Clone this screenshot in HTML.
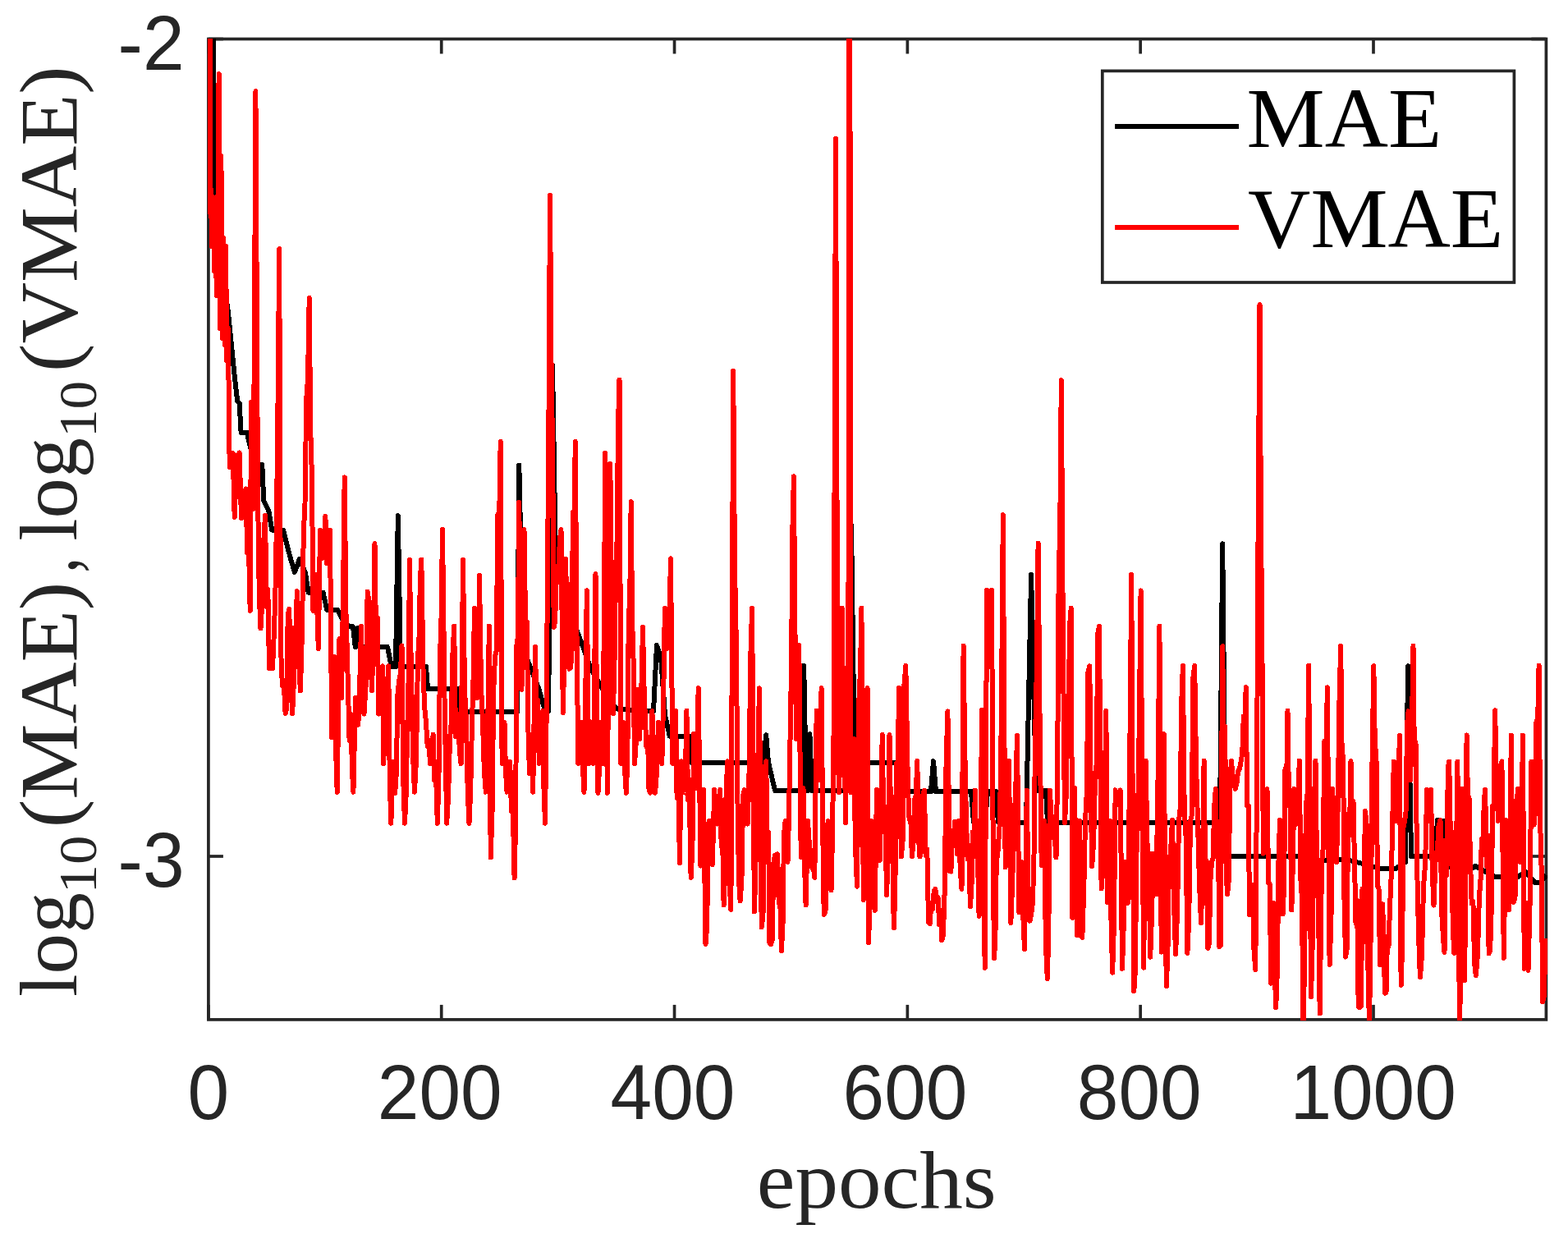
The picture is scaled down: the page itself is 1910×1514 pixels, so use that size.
<!DOCTYPE html>
<html><head><meta charset="utf-8"><style>
html,body{margin:0;padding:0;background:#fff;}
svg{display:block;}
.tl{font-family:"Liberation Sans",Arial,sans-serif;font-size:91px;fill:#262626;}
.lx{font-family:"Liberation Serif","Times New Roman",serif;fill:#262626;}
</style></head><body>
<svg width="1910" height="1514" viewBox="0 0 1910 1514">
<rect x="0" y="0" width="1910" height="1514" fill="#fff"/>
<g stroke="#262626" stroke-width="3.7" fill="none">
<rect x="253.9" y="47.5" width="1629.5" height="1194.4"/>
<line x1="253.90" y1="1241.9" x2="253.90" y2="1223.9"/><line x1="253.90" y1="47.5" x2="253.90" y2="65.5"/><line x1="537.72" y1="1241.9" x2="537.72" y2="1223.9"/><line x1="537.72" y1="47.5" x2="537.72" y2="65.5"/><line x1="821.54" y1="1241.9" x2="821.54" y2="1223.9"/><line x1="821.54" y1="47.5" x2="821.54" y2="65.5"/><line x1="1105.36" y1="1241.9" x2="1105.36" y2="1223.9"/><line x1="1105.36" y1="47.5" x2="1105.36" y2="65.5"/><line x1="1389.18" y1="1241.9" x2="1389.18" y2="1223.9"/><line x1="1389.18" y1="47.5" x2="1389.18" y2="65.5"/><line x1="1673.00" y1="1241.9" x2="1673.00" y2="1223.9"/><line x1="1673.00" y1="47.5" x2="1673.00" y2="65.5"/><line x1="253.9" y1="47.50" x2="271.9" y2="47.50"/><line x1="1883.4" y1="47.50" x2="1865.4" y2="47.50"/><line x1="253.9" y1="1043.00" x2="271.9" y2="1043.00"/><line x1="1883.4" y1="1043.00" x2="1865.4" y2="1043.00"/>
</g>
<defs><clipPath id="cp"><rect x="252.4" y="47.1" width="1632.5" height="1195.9"/></clipPath></defs>
<g clip-path="url(#cp)" fill="none" stroke-linejoin="round" stroke-linecap="butt" shape-rendering="crispEdges">
<polyline points="254.0,-80.0 259.6,30.0 261.0,221.0 270.0,330.0 277.3,374.6 285.7,457.8 289.2,488.7 291.6,491.0 293.6,526.7 300.7,526.7 307.0,553.0 309.4,566.3 319.3,566.3 321.3,610.0 327.2,621.8 331.2,645.5 345.0,645.5 353.0,677.0 358.9,697.0 364.9,681.0 372.0,698.0 375.7,721.7 393.5,721.7 398.3,743.0 411.4,743.0 418.0,756.0 425.6,763.3 430.0,763.3 432.8,788.3 436.3,764.5 438.0,788.0 472.0,788.0 476.8,812.0 482.0,812.0 484.8,628.2 488.0,812.0 519.0,812.0 521.0,839.0 558.5,839.0 560.0,867.0 630.0,867.0 632.3,566.6 637.0,790.0 645.0,810.0 656.0,838.0 664.0,866.0 668.0,866.0 673.0,445.0 677.0,690.0 700.0,761.0 710.0,787.4 719.5,813.6 731.4,835.0 740.0,850.0 751.6,863.5 796.0,866.4 800.0,786.0 805.0,800.0 810.0,870.6 815.8,896.8 840.0,896.8 842.0,928.6 930.0,928.6 933.2,895.3 936.0,928.6 944.0,963.0 976.0,963.0 979.2,811.0 982.0,963.0 984.0,963.0 986.4,894.0 989.0,963.0 1033.0,963.0 1037.0,640.0 1041.0,928.6 1100.0,928.6 1103.0,963.9 1134.0,963.9 1137.0,927.0 1140.0,963.9 1183.0,963.9 1186.0,1001.7 1200.0,1001.7 1203.0,964.0 1213.0,964.0 1216.0,1001.7 1250.0,1001.7 1256.1,699.9 1262.0,962.5 1274.0,962.5 1276.0,1001.7 1486.0,1001.7 1489.2,662.4 1493.0,1043.0 1580.0,1043.0 1600.0,1048.0 1640.0,1047.0 1660.0,1052.0 1680.0,1058.0 1700.0,1058.0 1712.0,1050.0 1715.1,811.3 1719.0,1043.0 1748.0,1043.0 1751.0,999.0 1760.0,1000.0 1764.0,1056.0 1788.0,1061.0 1797.0,1055.0 1821.0,1068.0 1849.6,1068.0 1857.7,1061.5 1870.0,1075.4 1876.0,1075.0 1884.0,1066.0" stroke="#000" stroke-width="6"/>
<polyline points="255.8,-50.0 256.3,260.0 256.8,230.0 258.2,300.0 259.6,240.0 261.0,330.0 262.4,260.0 263.8,360.0 265.2,280.0 266.6,90.0 268.0,400.0 269.4,190.0 270.8,412.0 272.2,290.0 273.6,420.0 275.0,300.0 276.4,440.0 277.8,400.0 279.7,569.0 281.7,562.5 283.7,552.0 285.7,630.0 288.5,555.0 290.1,554.2 291.6,551.5 294.0,631.0 295.8,628.1 297.7,602.2 299.5,595.5 301.2,673.8 303.0,667.1 304.7,744.0 306.0,490.0 308.5,620.0 309.9,411.0 311.4,111.3 314.0,600.0 315.8,725.1 317.5,765.5 319.3,734.6 321.2,660.3 323.0,627.5 324.7,739.2 326.3,718.1 328.0,814.0 330.0,814.0 332.0,814.0 334.0,767.3 336.0,700.0 338.1,538.3 340.2,303.2 342.0,789.0 343.9,835.0 345.7,831.3 347.6,869.0 349.1,863.3 350.7,748.6 352.2,741.7 354.1,817.6 356.0,869.0 357.4,846.0 358.9,764.4 360.3,800.2 361.7,720.3 363.8,801.5 365.9,841.5 367.9,771.3 369.8,649.0 371.5,613.2 373.2,486.7 375.0,461.7 376.7,362.8 378.3,526.3 379.9,578.1 381.5,744.0 383.2,728.1 385.0,700.0 387.8,790.0 390.0,645.6 391.5,667.6 393.0,680.0 394.7,661.4 396.4,629.0 398.0,686.0 400.0,673.3 402.0,645.6 404.2,898.0 407.0,800.0 408.9,907.2 410.7,964.7 413.5,778.0 416.0,850.0 417.9,734.6 419.7,581.4 421.4,743.9 423.0,800.0 425.6,901.7 427.5,870.0 428.9,936.9 430.4,964.7 433.0,850.0 434.6,873.7 436.3,882.7 438.1,838.1 440.0,762.6 441.8,848.0 443.5,869.6 445.6,835.4 447.7,720.5 450.0,736.0 451.5,800.6 453.0,841.0 454.8,780.2 456.5,662.2 458.1,779.6 459.7,752.6 461.3,869.6 462.9,866.9 464.4,820.3 466.0,811.3 467.2,930.2 470.0,850.0 471.6,840.9 473.2,811.3 474.8,951.2 476.3,1002.7 479.0,928.0 481.2,966.0 482.8,941.6 484.4,846.3 486.0,830.0 487.8,820.2 489.5,786.4 491.2,948.1 493.0,1002.7 494.5,971.5 496.0,900.0 497.5,833.6 499.0,681.7 500.5,794.2 502.0,870.0 503.5,930.7 505.0,964.7 507.0,924.8 509.0,800.0 510.4,781.5 511.9,706.2 513.3,681.7 515.7,825.6 517.4,864.0 519.0,880.0 520.7,908.7 522.3,901.8 524.0,930.2 525.8,918.4 527.6,894.6 529.3,950.3 531.1,945.4 532.8,1002.7 534.4,952.0 536.0,800.0 537.5,753.3 539.0,644.8 541.5,850.0 544.2,1002.7 546.1,969.1 548.0,900.0 549.7,880.7 551.5,795.2 553.2,762.6 555.0,897.0 556.5,886.2 558.0,870.0 559.8,914.4 561.6,930.2 564.0,681.7 566.0,839.6 568.0,880.0 569.8,967.7 571.5,1002.7 573.2,962.5 575.0,880.0 576.5,828.0 578.0,741.0 579.5,816.8 581.0,850.0 582.5,819.6 584.0,700.7 586.0,835.5 588.0,880.0 589.9,939.6 591.8,964.7 593.8,917.8 595.8,762.6 597.7,1044.4 599.5,990.7 601.2,841.9 603.0,800.0 604.7,792.5 606.4,626.7 608.0,640.8 609.7,538.0 611.6,930.0 613.0,912.3 614.5,880.0 616.0,939.7 617.6,964.7 619.4,957.0 621.2,927.8 623.0,987.9 624.8,986.1 626.6,1069.3 628.0,1007.4 629.5,785.3 630.9,775.3 632.3,611.8 633.8,777.9 635.4,840.0 637.0,781.3 638.5,645.0 640.1,760.8 641.8,757.6 643.4,888.1 645.0,942.0 647.0,900.0 649.2,964.7 652.0,787.6 653.6,873.9 655.2,852.7 656.8,930.0 658.2,917.1 659.7,874.8 661.1,866.0 662.5,960.6 664.0,1002.7 665.5,884.3 667.0,700.0 668.5,501.5 670.0,238.0 671.6,453.9 673.1,544.5 674.7,764.0 676.1,756.7 677.6,709.4 679.0,700.0 680.5,686.9 682.0,655.7 683.5,645.0 685.8,868.0 687.4,798.2 689.0,680.7 690.5,742.2 692.0,711.2 693.5,814.7 695.0,813.7 696.5,796.3 697.9,623.6 699.3,635.6 700.8,538.0 702.6,787.4 704.4,930.0 706.2,916.6 708.0,880.0 709.8,931.5 711.5,964.7 713.1,860.8 714.8,719.4 717.1,930.0 718.5,909.7 720.0,880.0 721.5,917.4 723.0,930.0 725.5,699.2 727.0,860.9 728.5,965.7 730.2,932.5 732.0,880.0 734.0,930.0 735.6,785.1 737.3,551.8 739.7,965.7 741.5,797.7 743.3,564.8 745.1,738.1 746.9,869.5 748.5,805.7 750.0,700.0 751.5,661.0 753.0,516.7 754.5,462.6 756.4,930.0 759.0,880.0 760.9,935.5 762.8,965.7 764.3,925.0 765.8,751.4 767.2,731.3 768.7,611.2 770.1,755.4 771.6,804.7 773.0,930.0 775.0,900.4 777.0,840.0 779.0,900.0 781.0,856.1 783.0,763.6 784.5,835.5 786.0,877.8 787.5,909.7 789.0,897.2 790.5,961.1 792.0,965.7 794.4,866.0 796.2,929.2 798.0,965.7 800.0,941.5 802.0,880.0 803.4,909.7 804.9,908.6 806.3,930.0 808.1,853.1 809.9,740.8 811.6,771.2 813.4,789.8 815.2,761.5 817.0,680.4 819.4,930.0 821.2,905.9 823.0,866.0 824.6,971.7 826.3,946.3 827.9,1051.0 829.8,927.4 832.0,960.0 834.5,965.5 836.4,865.6 838.1,974.3 839.9,973.9 841.6,1069.0 843.4,1033.1 845.2,894.0 848.0,960.0 850.7,838.3 853.5,1054.6 855.2,1032.1 857.0,962.0 859.5,1150.0 861.1,1129.8 862.6,1029.5 864.2,1000.0 866.0,1038.8 867.8,1053.4 870.2,962.0 872.0,989.9 873.7,1003.5 875.5,991.5 877.3,962.0 878.7,1030.8 880.2,1024.3 881.6,1102.2 883.2,1061.8 884.7,959.0 886.3,927.4 888.3,1070.7 890.4,1108.0 893.2,451.9 895.0,689.7 896.9,787.1 898.7,1001.0 900.2,1075.3 901.6,1097.4 903.4,1073.3 905.2,968.2 907.0,962.0 908.8,993.0 910.6,1003.5 912.4,951.4 914.3,799.8 916.1,740.8 918.9,1110.5 920.4,1060.8 921.9,919.5 923.4,925.9 924.9,838.3 927.7,1129.5 929.5,1114.5 931.4,936.4 933.2,927.4 934.7,1025.0 936.1,1013.5 937.5,1148.8 939.0,1150.0 940.6,1145.8 942.3,1052.0 943.9,1041.6 945.5,1041.2 947.1,1040.4 948.7,1099.5 950.3,1099.6 951.9,1158.0 953.5,1126.4 955.0,1016.1 956.6,1000.0 958.0,1034.0 959.5,1050.0 961.0,993.3 962.6,896.5 964.0,813.5 965.5,639.7 966.9,580.3 968.5,770.6 970.0,900.0 971.6,865.2 973.3,786.0 975.7,1044.0 978.5,960.0 980.0,1053.6 981.6,1102.2 984.0,1000.0 986.0,1030.9 988.0,1040.0 989.4,1057.8 990.9,1056.6 992.3,1069.0 994.7,865.6 997.5,950.0 999.0,908.9 1000.6,838.3 1002.2,1007.9 1003.7,1114.0 1005.5,1109.9 1007.2,1009.0 1009.0,1000.0 1010.8,1055.8 1012.5,1084.4 1014.0,1017.0 1015.5,900.0 1018.0,169.1 1020.5,900.0 1022.0,965.5 1023.8,899.5 1025.6,740.8 1027.0,881.2 1028.5,858.0 1029.9,1002.3 1031.8,883.6 1033.6,700.0 1035.0,-300.0 1036.4,965.5 1038.2,950.8 1040.0,900.0 1042.0,1031.9 1044.0,1079.6 1046.5,850.0 1048.0,816.3 1049.4,740.8 1051.8,1096.0 1053.4,1069.5 1054.9,896.3 1056.5,838.3 1057.9,1148.0 1059.5,1109.9 1061.0,1000.0 1062.6,1048.1 1064.1,1059.0 1065.7,1109.0 1068.0,961.5 1069.8,1029.1 1071.6,1048.0 1073.2,992.1 1074.7,895.0 1076.5,1008.6 1078.2,982.9 1080.0,1090.0 1081.8,1044.5 1083.5,895.0 1085.3,1006.9 1087.0,1019.6 1088.8,1130.3 1090.3,1087.4 1091.9,929.6 1093.5,954.3 1095.0,837.8 1097.8,1043.5 1099.6,1024.1 1101.5,833.2 1103.3,811.0 1106.0,960.0 1107.6,997.7 1109.3,998.5 1110.9,1043.5 1112.5,1027.4 1114.1,973.8 1115.7,968.4 1117.3,927.0 1118.8,1016.9 1120.4,1043.5 1122.2,1037.2 1124.1,968.3 1125.9,962.7 1127.6,1042.0 1129.3,1034.4 1131.0,1123.0 1132.7,1125.2 1134.4,1100.1 1136.0,1107.3 1137.7,1085.3 1139.4,1082.8 1141.0,1098.1 1142.6,1093.3 1144.2,1126.2 1145.7,1108.4 1147.3,1145.2 1148.9,1138.6 1150.7,1085.1 1152.6,927.5 1154.4,866.4 1156.8,1061.3 1158.4,1061.6 1160.0,1015.0 1161.6,1021.5 1163.2,1000.7 1166.0,1040.0 1168.0,1000.0 1169.8,1060.5 1171.5,1082.8 1173.6,786.7 1175.3,915.2 1177.0,1000.0 1178.6,1046.5 1180.3,1040.6 1181.9,1104.0 1183.4,1082.5 1184.8,1013.4 1186.3,1040.0 1187.8,962.5 1189.4,1041.0 1191.0,1047.2 1192.6,1115.8 1194.4,1015.4 1196.2,865.0 1198.0,1050.0 1199.7,1178.8 1202.1,718.9 1203.5,779.4 1205.0,800.0 1206.5,768.5 1208.0,718.9 1209.5,999.2 1210.9,1167.0 1212.3,1146.5 1213.8,1046.9 1215.2,1042.0 1218.0,1000.0 1219.9,869.8 1221.8,627.3 1223.2,872.2 1224.7,1056.4 1226.1,1031.8 1227.6,945.4 1229.0,926.8 1231.3,1124.0 1233.2,1075.8 1235.0,1000.0 1237.0,971.6 1239.0,895.9 1241.3,1111.0 1242.9,1086.5 1244.5,1050.0 1246.2,1112.9 1248.0,1156.2 1250.8,962.5 1252.6,1089.4 1254.4,1121.8 1256.2,1113.9 1258.0,1099.0 1259.5,1042.3 1261.0,900.0 1262.8,817.8 1264.6,661.8 1266.7,889.1 1268.7,1054.0 1270.3,1032.6 1272.0,1000.0 1273.9,1150.1 1275.8,1192.0 1277.3,1136.0 1278.9,962.5 1280.5,992.3 1282.0,1000.0 1283.5,1019.9 1285.0,1023.7 1286.5,1044.5 1288.1,943.1 1289.7,694.7 1291.2,649.4 1292.8,463.3 1294.9,779.6 1297.0,1002.0 1298.5,974.4 1300.0,900.0 1301.6,869.9 1303.1,761.4 1304.7,740.8 1306.4,1118.0 1309.0,960.0 1310.7,1077.4 1312.3,1139.4 1315.0,1000.0 1316.7,1091.0 1318.3,1141.8 1320.2,1086.1 1322.0,1000.0 1323.8,965.2 1325.5,818.2 1327.3,811.3 1328.8,970.0 1330.2,1055.0 1332.1,1026.3 1334.0,950.0 1335.7,929.7 1337.3,771.2 1339.0,762.6 1341.6,1082.4 1343.0,1062.7 1344.4,943.3 1345.9,951.8 1347.3,866.0 1349.2,1099.0 1352.0,1000.0 1353.5,1121.2 1355.1,1184.6 1356.9,1127.0 1358.7,962.3 1361.1,980.0 1362.9,976.1 1364.7,962.3 1367.0,1179.8 1368.5,1134.8 1370.0,1050.0 1372.0,1083.0 1374.0,1100.0 1376.1,940.7 1378.2,699.7 1379.8,995.8 1381.3,1207.2 1382.9,1181.2 1384.4,1040.8 1386.0,1000.0 1387.8,878.6 1389.6,719.4 1391.4,977.3 1393.2,1178.7 1395.6,926.7 1397.5,1027.4 1399.3,1044.8 1401.2,1165.6 1403.0,1115.8 1404.8,1039.6 1406.5,1069.8 1408.3,1089.5 1410.3,970.8 1412.4,762.7 1414.7,1159.6 1416.2,1057.1 1417.8,894.2 1419.3,1099.0 1420.9,1201.2 1422.5,1154.9 1424.0,1050.0 1426.0,1038.3 1428.0,999.0 1430.0,1100.4 1432.1,1162.0 1434.0,1112.6 1436.0,1000.0 1437.6,985.6 1439.3,853.9 1440.9,811.0 1442.7,985.5 1444.6,1018.9 1446.4,1160.8 1448.2,1121.1 1450.0,1000.0 1451.7,993.1 1453.5,824.4 1455.2,811.0 1457.1,935.2 1459.0,1000.0 1461.0,1075.9 1463.0,1124.0 1464.8,1064.4 1466.6,926.6 1468.2,1059.3 1469.7,1048.5 1471.3,1154.9 1472.9,1149.1 1474.4,1072.4 1476.0,1050.0 1477.6,1045.4 1479.2,982.1 1480.8,961.0 1482.3,1038.3 1483.8,1002.9 1485.3,1153.0 1486.8,1151.3 1489.2,787.2 1490.7,918.9 1492.2,885.0 1493.6,1063.3 1495.1,1089.5 1496.7,1073.5 1498.3,960.1 1499.9,926.6 1501.5,944.3 1503.0,945.3 1504.6,961.0 1506.3,955.5 1508.0,940.0 1509.9,936.4 1511.8,926.6 1513.3,917.0 1514.8,872.6 1516.2,885.6 1517.7,837.1 1519.2,981.5 1520.6,981.0 1522.1,1114.5 1523.9,1103.6 1525.7,1077.6 1527.5,1157.1 1529.3,1181.0 1531.0,948.0 1532.8,606.4 1534.5,371.0 1535.9,626.1 1537.4,787.9 1538.8,1039.6 1540.4,1020.9 1541.9,969.5 1543.5,961.0 1545.1,1075.4 1546.7,1076.8 1548.3,1197.7 1551.0,1100.0 1552.6,1176.8 1554.2,1227.4 1555.8,1184.2 1557.4,1051.3 1559.0,999.0 1560.8,1069.4 1562.6,1113.3 1564.1,1080.3 1565.5,936.7 1567.0,962.3 1568.5,865.7 1570.1,981.5 1571.7,983.8 1573.3,1108.5 1574.8,1055.3 1576.3,961.0 1577.8,986.4 1579.2,1003.9 1581.0,980.8 1582.8,926.6 1584.4,1071.8 1585.9,1093.6 1587.5,1245.0 1589.2,1172.8 1590.8,981.0 1592.5,967.9 1594.2,810.6 1597.0,1214.3 1598.8,1146.4 1600.7,983.7 1602.5,926.6 1604.2,1067.3 1606.0,1104.4 1607.7,1234.5 1610.0,1051.0 1611.7,1032.9 1613.4,902.7 1615.1,946.9 1616.8,837.4 1619.6,1175.0 1621.4,1124.5 1623.2,961.0 1624.8,1003.8 1626.4,1000.2 1628.0,1050.0 1629.7,982.3 1631.5,853.5 1633.2,786.8 1634.7,921.0 1636.1,921.3 1637.5,1095.6 1639.0,1165.6 1640.6,1156.1 1642.2,991.2 1643.9,1017.7 1645.5,927.0 1647.0,997.0 1648.5,976.0 1650.0,1050.0 1651.5,1124.2 1653.1,1096.6 1654.7,1226.5 1656.2,1227.4 1657.9,1225.1 1659.5,1082.9 1661.2,1147.2 1662.8,988.0 1664.5,1001.0 1666.2,1167.5 1668.0,1250.0 1669.8,1129.2 1671.5,929.0 1673.3,811.3 1674.9,911.2 1676.4,914.9 1678.0,1079.3 1679.5,1082.1 1681.1,1175.0 1682.7,1155.4 1684.2,1101.4 1687.0,1209.6 1688.5,1208.6 1690.0,1140.9 1691.5,1152.4 1693.0,1106.0 1695.0,1060.0 1697.8,927.5 1699.4,972.8 1701.0,1000.0 1703.0,973.2 1704.9,895.6 1706.6,1200.0 1708.1,1153.0 1709.5,1007.5 1711.0,1000.0 1712.5,990.2 1714.1,881.3 1715.6,866.4 1718.0,950.0 1719.8,892.3 1721.5,786.8 1723.0,930.9 1724.5,904.0 1726.0,1050.0 1728.0,1137.0 1729.9,1190.5 1732.0,1163.2 1734.0,1080.0 1736.1,1052.5 1738.2,962.0 1741.0,1000.0 1743.0,961.6 1744.8,1064.3 1746.5,1102.6 1748.9,1039.6 1750.8,1035.7 1752.6,1005.1 1754.5,999.0 1756.3,1112.9 1758.1,1144.2 1759.5,1159.7 1760.9,1023.5 1762.4,1065.9 1763.8,934.7 1765.2,927.5 1766.7,1010.7 1768.2,1012.5 1769.7,1125.8 1771.2,1160.8 1773.3,1100.3 1775.4,927.5 1776.8,1147.0 1778.3,1250.0 1780.7,961.0 1782.5,1100.6 1784.2,1194.1 1786.6,895.5 1788.1,980.4 1789.5,971.4 1791.0,1050.0 1792.7,1100.4 1794.4,1098.1 1796.1,1173.3 1797.8,1188.2 1799.9,1163.3 1802.0,1089.5 1803.4,1075.6 1804.9,1021.9 1806.3,1036.2 1807.8,975.5 1809.2,962.0 1810.7,1054.7 1812.2,1017.5 1813.6,1161.4 1815.1,1158.4 1816.6,1111.8 1818.1,981.9 1819.6,979.4 1821.1,865.3 1823.0,952.5 1825.0,1000.0 1826.5,991.3 1827.9,941.3 1829.4,927.5 1831.8,1166.8 1834.2,999.0 1836.0,1079.3 1837.7,1108.5 1839.2,1053.2 1840.8,895.5 1842.2,1049.2 1843.7,1099.0 1845.5,1093.6 1847.3,978.8 1849.1,961.0 1850.5,1022.7 1852.0,1050.0 1853.5,1014.4 1854.9,895.5 1856.8,1179.8 1859.0,1100.0 1861.5,1182.0 1863.5,1105.2 1865.4,927.7 1867.0,982.3 1868.5,1004.6 1870.0,989.2 1871.5,878.7 1873.1,881.1 1874.6,810.8 1876.1,999.1 1877.7,1060.6 1879.2,1220.0 1880.8,1213.3 1882.4,1152.9 1884.0,1143.0" stroke="#f00" stroke-width="6"/>
</g>
<g class="tl">
<text transform="translate(253.90,1362.5) scale(1,1.03)" text-anchor="middle">0</text><text transform="translate(535.72,1362.5) scale(1,1.03)" text-anchor="middle">200</text><text transform="translate(819.44,1362.5) scale(1,1.03)" text-anchor="middle">400</text><text transform="translate(1102.46,1362.5) scale(1,1.03)" text-anchor="middle">600</text><text transform="translate(1387.68,1362.5) scale(1,1.03)" text-anchor="middle">800</text><text transform="translate(1672.60,1362.5) scale(1,1.03)" text-anchor="middle">1000</text>
<text transform="translate(224.5,84.5) scale(1,1.03)" text-anchor="end">-2</text>
<text transform="translate(224.5,1080) scale(1,1.03)" text-anchor="end">-3</text>
</g>
<text class="lx" x="921.7" y="1470.5" font-size="100" textLength="292.1" lengthAdjust="spacingAndGlyphs">epochs</text>
<g class="lx" transform="translate(93.3,1220) rotate(-90)">
<text x="5.9" y="0" font-size="100" textLength="126.9" lengthAdjust="spacingAndGlyphs">log</text>
<text x="131.6" y="23.5" font-size="66" textLength="70.9" lengthAdjust="spacingAndGlyphs">10</text>
<text x="211.8" y="0" font-size="100" textLength="299.6" lengthAdjust="spacingAndGlyphs">(MAE)</text>
<text x="522.4" y="0" font-size="100" textLength="18.5" lengthAdjust="spacingAndGlyphs">,</text>
<text x="561.3" y="0" font-size="100" textLength="125.5" lengthAdjust="spacingAndGlyphs">log</text>
<text x="686.9" y="23.5" font-size="66" textLength="69.4" lengthAdjust="spacingAndGlyphs">10</text>
<text x="767.1" y="0" font-size="100" textLength="372.6" lengthAdjust="spacingAndGlyphs">(VMAE)</text>
</g>
<g>
<rect x="1342.8" y="86.4" width="501.6" height="257.6" fill="#fff" stroke="#262626" stroke-width="3.7"/>
<line x1="1358.1" y1="154.1" x2="1509" y2="154.1" stroke="#000" stroke-width="6"/>
<line x1="1358.1" y1="277" x2="1509" y2="277" stroke="#f00" stroke-width="6"/>
<text x="1518.6" y="178.7" font-family="Liberation Serif,serif" font-size="104" fill="#000" textLength="237.6" lengthAdjust="spacingAndGlyphs">MAE</text>
<text x="1520.0" y="300.8" font-family="Liberation Serif,serif" font-size="104" fill="#000" textLength="311.4" lengthAdjust="spacingAndGlyphs">VMAE</text>
</g>
</svg>
</body></html>
